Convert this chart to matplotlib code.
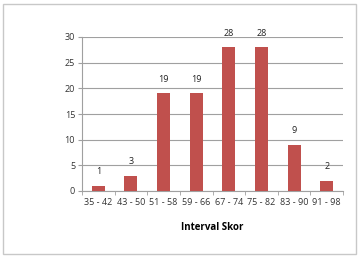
import matplotlib.pyplot as plt
from matplotlib.patches import Rectangle

intervals = ["35 - 42", "43 - 50", "51 - 58", "59 - 66", "67 - 74", "75 - 82", "83 - 90", "91 - 98"]
frekuensi = [1, 3, 19, 19, 28, 28, 9, 2]

plt.rcParams["font.family"] = ["Open Sans", "DejaVu Sans"]

fig = plt.figure(figsize=(3.59, 2.58), dpi=100)
ax = fig.add_axes([82 / 359, 1 - 191 / 258, (343 - 82) / 359, (191 - 37) / 258])

# grey frame around the whole chart
fig.patches.append(Rectangle((3 / 359, 4 / 258), 353 / 359, 250 / 258, transform=fig.transFigure,
                             fill=False, edgecolor="#c8c8c8", linewidth=1))

x = range(len(intervals))
ax.bar(x, frekuensi, width=0.4, color="#c0504d", zorder=3)
for i, v in zip(x, frekuensi):
    ax.text(i, v + 1.9, str(v), ha="center", va="bottom", fontsize=6.5, color="#222222")

ax.set_xlim(-0.5, len(intervals) - 0.5)
ax.set_ylim(0, 30)
ax.set_yticks(range(0, 31, 5))
ax.yaxis.grid(True, color="#a0a0a0", linewidth=0.8, zorder=0)

ax.set_xticks(x)
ax.set_xticklabels(intervals, fontsize=6.5, color="#333333")
ax.set_xticks([i + 0.5 for i in range(-1, len(intervals))], minor=True)
ax.tick_params(axis="x", which="major", length=0, pad=5)
ax.tick_params(axis="x", which="minor", length=3, color="#a0a0a0")
ax.tick_params(axis="y", labelsize=6.5, labelcolor="#333333", length=3, color="#a0a0a0", pad=2)

for s in ["top", "right"]:
    ax.spines[s].set_visible(False)
ax.spines["left"].set_color("#a0a0a0")
ax.spines["bottom"].set_color("#a0a0a0")

ax.set_xlabel("Interval Skor", fontsize=7, fontweight="bold", labelpad=11)

plt.savefig("out.png", dpi=100)
